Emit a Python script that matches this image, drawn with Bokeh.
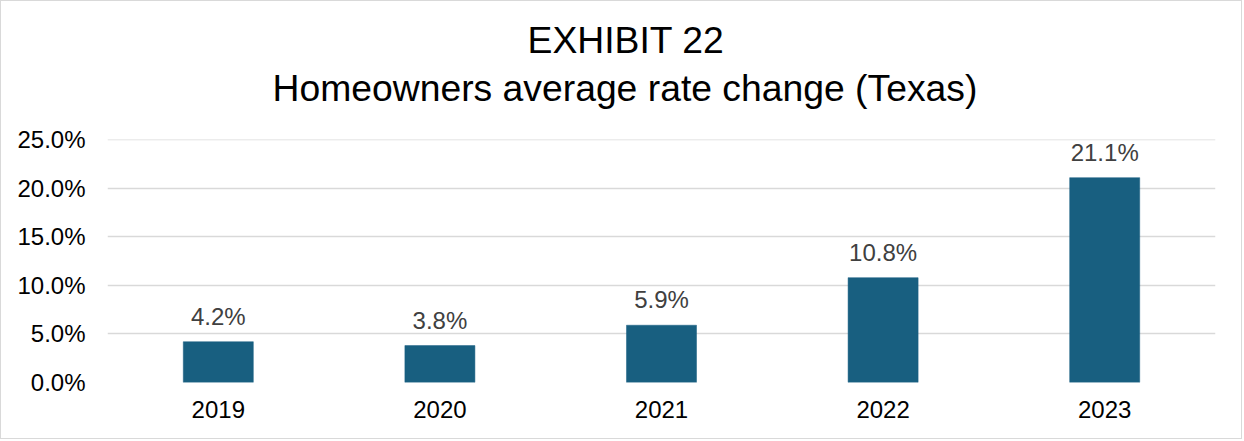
from bokeh.plotting import figure
from bokeh.models import (ColumnDataSource, Range1d, FixedTicker, NumeralTickFormatter,
                          LabelSet, Title)
from bokeh.core.properties import value
from bokeh.embed import file_html
from bokeh.resources import INLINE

years = ["2019", "2020", "2021", "2022", "2023"]
rate_change = [0.042, 0.038, 0.059, 0.108, 0.211]
labels = ["4.2%", "3.8%", "5.9%", "10.8%", "21.1%"]
y_ticks = [0.0, 0.05, 0.10, 0.15, 0.20, 0.25]
title_line1 = "EXHIBIT 22"
title_line2 = "Homeowners average rate change (Texas)"

FONT = "Liberation Sans"
BAR = "#185F80"
LABEL_SIZE = "24px"

src = ColumnDataSource(dict(year=years, val=rate_change, lab=labels))

p = figure(x_range=years, y_range=Range1d(0, 0.2503), width=1242, height=439,
           output_backend="svg", toolbar_location=None, tools="")
p.styles = {"border": "1px solid #D9D9D9"}
p.min_border_left = 106
p.min_border_right = 28
p.min_border_top = 138
p.min_border_bottom = 58
p.outline_line_color = None
p.background_fill_color = "white"
p.border_fill_color = "white"

p.vbar(x="year", top="val", width=0.316, source=src, fill_color=BAR,
       line_color=BAR, line_width=0.5)

p.x_range.range_padding = 0
p.xgrid.grid_line_color = None
p.ygrid.grid_line_color = "#D9D9D9"
p.ygrid.grid_line_width = 1.5

p.yaxis.ticker = FixedTicker(ticks=y_ticks)
p.yaxis.formatter = NumeralTickFormatter(format="0.0%")
for ax in (p.xaxis, p.yaxis):
    ax.axis_line_color = None
    ax.major_tick_line_color = None
    ax.minor_tick_line_color = None
    ax.major_tick_out = 0
    ax.major_tick_in = 0
    ax.major_label_text_font = FONT
    ax.major_label_text_font_size = LABEL_SIZE
    ax.major_label_text_color = "#000000"
p.yaxis.major_label_standoff = 22
p.xaxis.major_label_standoff = 18

ls = LabelSet(x="year", y="val", text="lab", source=src, text_align="center",
              text_baseline="alphabetic", y_offset=17, text_font=value(FONT),
              text_font_size=value(LABEL_SIZE), text_color="#404040")
p.add_layout(ls)

# spacer between the title block and the plot area
p.add_layout(Title(text=" ", text_font_size="1px", standoff=28), "above")
p.add_layout(Title(text=title_line2, align="left", offset=165, text_font=FONT,
                   text_font_size="37.3px", text_font_style="normal",
                   text_color="#000000", standoff=0), "above")
p.add_layout(Title(text=title_line1, align="left", offset=420, text_font=FONT,
                   text_font_size="37.3px", text_font_style="normal",
                   text_color="#000000", standoff=8), "above")

open("out.html", "w").write(file_html(p, INLINE))
